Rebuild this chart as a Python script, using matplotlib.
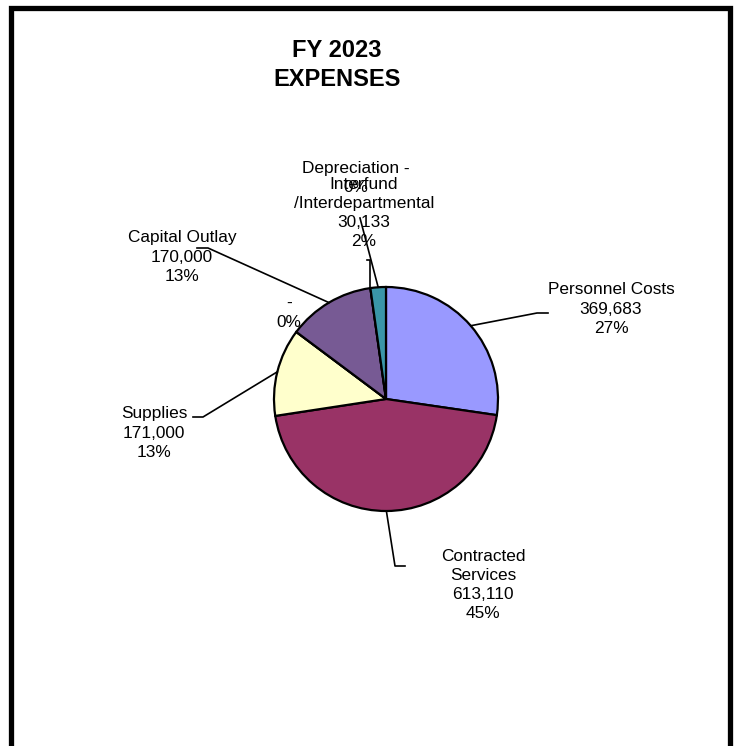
import numpy as np
import matplotlib.pyplot as plt
from matplotlib.patches import Rectangle

plt.rcParams['font.family'] = ['Liberation Sans', 'DejaVu Sans']

# data, clockwise from 12 o'clock
names = ["Personnel Costs", "Contracted\nServices", "Supplies", "", "Capital Outlay",
         "Depreciation", "Interfund\n/Interdepartmental"]
amounts = [369683, 613110, 171000, 0, 170000, 0, 30133]
colors = ["#9999FF", "#993366", "#FFFFCC", "#FFFFFF", "#775A94", "#FFFFFF", "#3A96A8"]

H = 746
def Y(y):
    return H - y

# label layout in picture pixels: text centre and leader elbow points
label_pos = [(611, 309), (483, 585), (154, 433), (289, 313), (182, 257), (356, 178), (364, 213)]
leaders = [[(537, 313), (548, 313)],
           [(395, 566), (405, 566)],
           [(203, 417), (193, 417)],
           [],
           [(208, 248), (197, 248)],
           [(None, 260), (367, 260)],
           [(360, 218)]]

fig = plt.figure(figsize=(7.4, 7.46), dpi=100)
ax = fig.add_axes([0, 0, 1, 1])

cx, cy, r = 386, Y(399), 112
wedges, _ = ax.pie(amounts, colors=colors, startangle=90, counterclock=False,
                   center=(cx, cy), radius=r, frame=True,
                   wedgeprops=dict(edgecolor='black', linewidth=1.6))
ax.set_xlim(0, 740)
ax.set_ylim(0, H)
ax.set_aspect('auto')
ax.axis('off')

total = sum(amounts)
for w, name, v, pos, pts in zip(wedges, names, amounts, label_pos, leaders):
    val = "-" if v == 0 else f"{v:,}"
    pct = f"{round(v / total * 100):.0f}%"
    if name == "":
        txt = f"{val}\n{pct}"
    elif v == 0:
        txt = f"{name} {val}\n{pct}"
    else:
        txt = f"{name}\n{val}\n{pct}"
    ax.text(pos[0], Y(pos[1]), txt, ha='center', va='center', fontsize=12.4,
            linespacing=1.36, zorder=5)
    if pts:
        a = np.deg2rad((w.theta1 + w.theta2) / 2)
        x0, y0 = cx + r * np.cos(a), cy + r * np.sin(a)
        xs, ys = [x0], [y0]
        for px, py in pts:
            xs.append(x0 if px is None else px)
            ys.append(Y(py))
        ax.plot(xs, ys, color='black', lw=1.2, zorder=4)

fig.text(337 / 740, 1 - 65 / H, "FY 2023\nEXPENSES", ha='center', va='center',
         fontsize=17, fontweight='bold', linespacing=1.3)

ax.add_patch(Rectangle((11, -20), 719, Y(8) + 20, fill=False, edgecolor='black',
                       linewidth=3.8, clip_on=False))

fig.savefig("out.png", dpi=100)
